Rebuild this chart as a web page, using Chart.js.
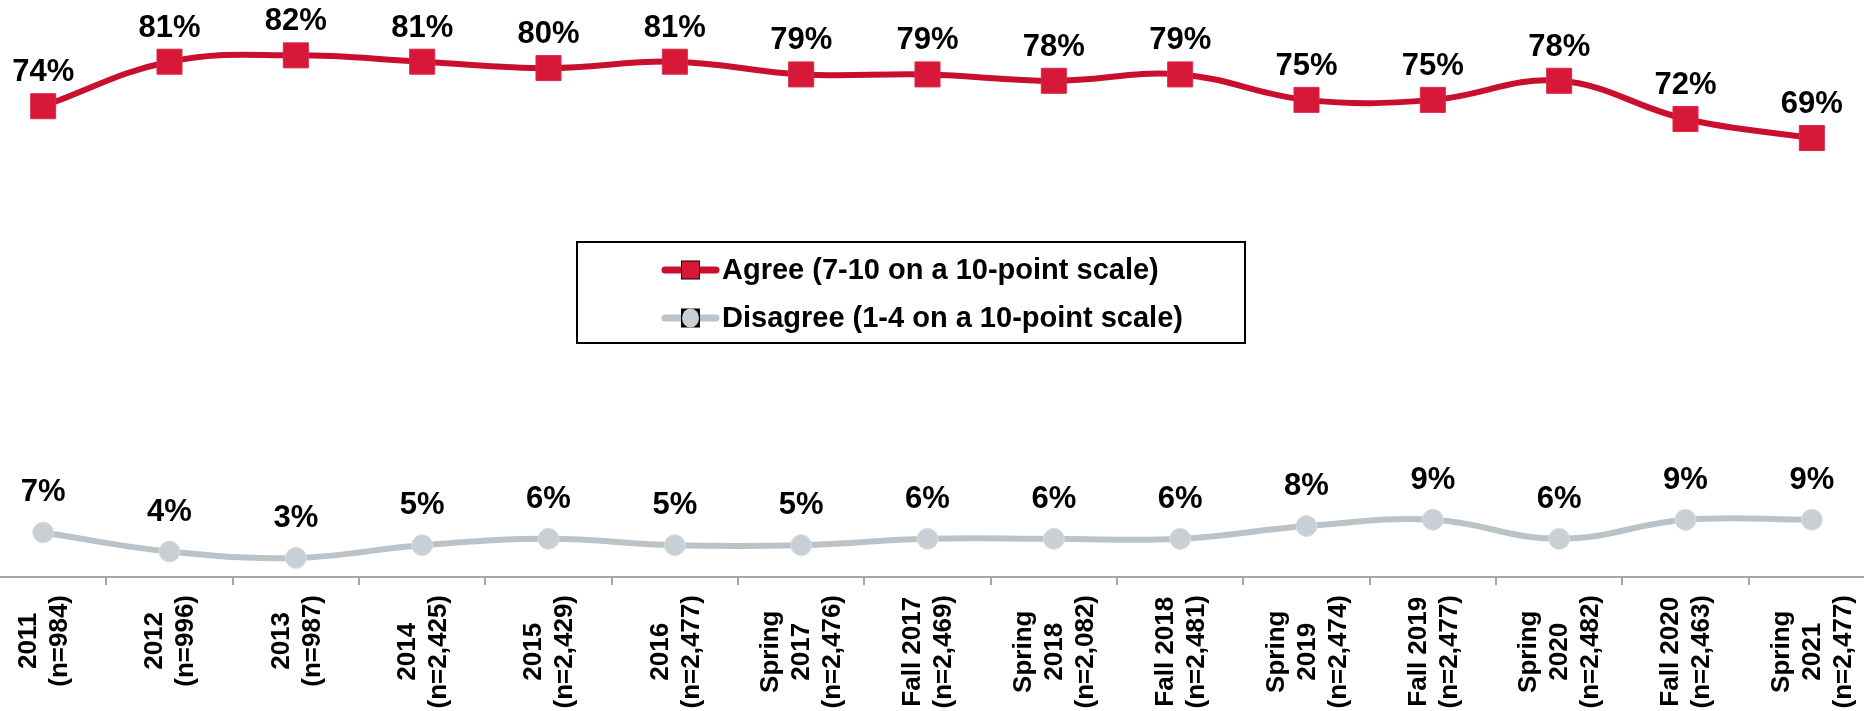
<!DOCTYPE html>
<html>
<head>
<meta charset="utf-8">
<script src="https://cdn.jsdelivr.net/npm/chart.js@4/dist/chart.umd.min.js"></script>
<style>
  html, body { margin: 0; padding: 0; background: #fff; overflow: hidden; }
  #wrap { position: relative; width: 1864px; height: 711px; overflow: hidden; }
  #trend { position: absolute; left: -20px; top: 0; }
</style>
</head>
<body>
<div id="wrap"><canvas id="trend" width="1895" height="711"></canvas></div>
<script>
// DATA
const waves = [
  ["2011", "(n=984)"],
  ["2012", "(n=996)"],
  ["2013", "(n=987)"],
  ["2014", "(n=2,425)"],
  ["2015", "(n=2,429)"],
  ["2016", "(n=2,477)"],
  ["Spring", "2017", "(n=2,476)"],
  ["Fall 2017", "(n=2,469)"],
  ["Spring", "2018", "(n=2,082)"],
  ["Fall 2018", "(n=2,481)"],
  ["Spring", "2019", "(n=2,474)"],
  ["Fall 2019", "(n=2,477)"],
  ["Spring", "2020", "(n=2,482)"],
  ["Fall 2020", "(n=2,463)"],
  ["Spring", "2021", "(n=2,477)"],
];
const agree = [74, 81, 82, 81, 80, 81, 79, 79, 78, 79, 75, 75, 78, 72, 69];
const disagree = [7, 4, 3, 5, 6, 5, 5, 6, 6, 6, 8, 9, 6, 9, 9];
const seriesNames = [
  "Agree (7-10 on a 10-point scale)",
  "Disagree (1-4 on a 10-point scale)",
];

const SHIFT = 20; // canvas sits 20px left of the page
const FONT = '"Liberation Sans", Arial, sans-serif';

//value labels above the points
const pointLabels = {
  id: "pointLabels",
  afterDatasetsDraw(chart) {
    const ctx = chart.ctx;
    ctx.save();
    ctx.font = "bold 31px " + FONT;
    ctx.fillStyle = "#000";
    ctx.textAlign = "center";
    ctx.textBaseline = "alphabetic";
    chart.data.datasets.forEach((ds, di) => {
      const meta = chart.getDatasetMeta(di);
      meta.data.forEach((pt, i) => {
        ctx.fillText(ds.data[i] + "%", pt.x, pt.y - ds.labelGap);
      });
    });
    ctx.restore();
  },
};

//rotated category labels (centred lines, anchored under the axis)
const waveLabels = {
  id: "waveLabels",
  afterDraw(chart) {
    const ctx = chart.ctx;
    const xs = chart.scales.x;
    const top = chart.chartArea.bottom + 18;
    const lh = 31;
    ctx.save();
    ctx.font = "bold 26px " + FONT;
    ctx.fillStyle = "#000";
    ctx.textAlign = "center";
    ctx.textBaseline = "middle";
    waves.forEach((lines, i) => {
      const x = xs.getPixelForValue(i);
      let maxW = 0;
      lines.forEach((l) => (maxW = Math.max(maxW, ctx.measureText(l).width)));
      ctx.save();
      ctx.translate(x, top);
      ctx.rotate(-Math.PI / 2);
      lines.forEach((l, j) => {
        ctx.fillText(l, -maxW / 2, (j - (lines.length - 1) / 2) * lh + 1);
      });
      ctx.restore();
    });
    ctx.restore();
  },
};

//boxed legend in the middle of the plot
const boxLegend = {
  id: "boxLegend",
  afterDraw(chart) {
    const ctx = chart.ctx;
    const bx = 577 + SHIFT, by = 242, bw = 668, bh = 101;
    ctx.save();
    ctx.fillStyle = "#fff";
    ctx.fillRect(bx, by, bw, bh);
    ctx.strokeStyle = "#000";
    ctx.lineWidth = 2;
    ctx.strokeRect(bx, by, bw, bh);
    const rows = [270, 318];
    chart.data.datasets.forEach((ds, di) => {
      const y = rows[di];
      const x0 = 665 + SHIFT, x1 = 716 + SHIFT, mx = 690.5 + SHIFT;
      ctx.strokeStyle = ds.borderColor;
      ctx.lineWidth = 7;
      ctx.lineCap = "round";
      ctx.beginPath();
      ctx.moveTo(x0, y);
      ctx.lineTo(x1, y);
      ctx.stroke();
      ctx.fillStyle = "#000";
      ctx.fillRect(mx - 9.5, y - 9.5, 19, 19);
      ctx.fillStyle = ds.pointBackgroundColor;
      if (ds.pointStyle === "rect") {
        ctx.fillRect(mx - 8.5, y - 8.5, 17, 17);
      } else {
        ctx.beginPath();
        ctx.ellipse(mx, y, 8.5, 9.5, 0, 0, Math.PI * 2);
        ctx.fill();
      }
      ctx.font = "bold 29px " + FONT;
      ctx.fillStyle = "#000";
      ctx.textAlign = "left";
      ctx.textBaseline = "middle";
      ctx.fillText(ds.label, 722 + SHIFT, y + 1);
    });
    ctx.restore();
  },
};

new Chart(document.getElementById("trend"), {
  type: "line",
  data: {
    labels: waves.map((w) => w.join(" ")),
    datasets: [
      {
        label: seriesNames[0],
        data: agree,
        borderColor: "#C8102E",
        borderWidth: 6,
        tension: 0.4,
        pointStyle: "rect",
        pointRadius: 17.7,
        pointBackgroundColor: "#D81838",
        pointBorderColor: "#DB2A48",
        pointBorderWidth: 1,
        labelGap: 25,
      },
      {
        label: seriesNames[1],
        data: disagree,
        borderColor: "#BCC3C8",
        borderWidth: 6,
        tension: 0.4,
        pointStyle: "circle",
        pointRadius: 10.5,
        pointBackgroundColor: "#C8D0D6",
        pointBorderColor: "#D8DEE2",
        pointBorderWidth: 1,
        labelGap: 31,
      },
    ],
  },
  options: {
    responsive: false,
    devicePixelRatio: 1,
    animation: false,
    layout: { padding: 0, autoPadding: false },
    plugins: { legend: { display: false }, tooltip: { enabled: false } },
    scales: {
      x: {
        offset: true,
        grid: {
          offset: true,
          drawOnChartArea: false,
          drawTicks: true,
          tickLength: 8,
          color: "#A6A6A6",
          lineWidth: 2,
        },
        border: { display: true, color: "#A6A6A6", width: 2 },
        ticks: { display: false },
        afterFit(scale) {
          scale.height = 134;
        },
      },
      y: { display: false, min: 0, max: 90.7 },
    },
  },
  plugins: [pointLabels, waveLabels, boxLegend],
});
</script>
</body>
</html>
